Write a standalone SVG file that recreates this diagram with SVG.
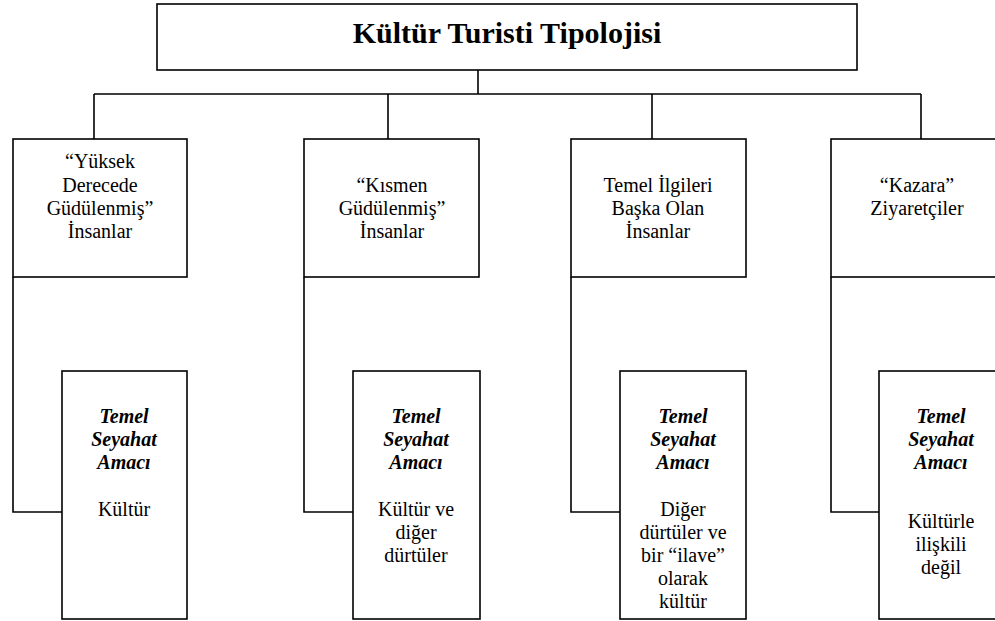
<svg xmlns="http://www.w3.org/2000/svg" width="995" height="621" viewBox="0 0 995 621">
<style>
.box{fill:#fff;stroke:#000;stroke-width:1.6}
.ln{fill:none;stroke:#000;stroke-width:1.6}
.tx{font-family:'Liberation Serif','Times New Roman',serif;font-size:20px;fill:#000;text-anchor:middle}
.title{font-size:30px;font-weight:bold}
.bi{font-weight:bold;font-style:italic}
</style>
<rect width="995" height="621" fill="#fff"/>
<g id="connectors">
<path class="ln" d="M478 70V94M94 94H921M94 94V139M388 94V139M652 94V139M921 94V139"/>
<path class="ln" d="M13 277V512H62M304 277V512H353M571 277V512H620M831 277V512H879"/>
</g>
<g class="tx">
<g id="root">
<rect class="box" x="157" y="4" width="700" height="66"/>
<text class="title" x="507" y="43">Kültür Turisti Tipolojisi</text>
</g>
<g id="t1">
<rect class="box" x="13" y="139" width="174" height="138"/>
<text x="100" y="168">“Yüksek</text>
<text x="100" y="192">Derecede</text>
<text x="100" y="215">Güdülenmiş”</text>
<text x="100" y="238">İnsanlar</text>
</g>
<g id="t2">
<rect class="box" x="304" y="139" width="175" height="138"/>
<text x="392" y="192">“Kısmen</text>
<text x="392" y="215">Güdülenmiş”</text>
<text x="392" y="238">İnsanlar</text>
</g>
<g id="t3">
<rect class="box" x="571" y="139" width="175" height="138"/>
<text x="658" y="192">Temel İlgileri</text>
<text x="658" y="215">Başka Olan</text>
<text x="658" y="238">İnsanlar</text>
</g>
<g id="t4">
<rect class="box" x="831" y="139" width="175" height="138"/>
<text x="917" y="192">“Kazara”</text>
<text x="917" y="215">Ziyaretçiler</text>
</g>
<g id="p1">
<rect class="box" x="62" y="371" width="125" height="248"/>
<text class="bi" x="124" y="423">Temel</text>
<text class="bi" x="124" y="446">Seyahat</text>
<text class="bi" x="124" y="469">Amacı</text>
<text x="124" y="516">Kültür</text>
</g>
<g id="p2">
<rect class="box" x="353" y="371" width="127" height="248"/>
<text class="bi" x="416" y="423">Temel</text>
<text class="bi" x="416" y="446">Seyahat</text>
<text class="bi" x="416" y="469">Amacı</text>
<text x="416" y="516">Kültür ve</text>
<text x="416" y="539">diğer</text>
<text x="416" y="562">dürtüler</text>
</g>
<g id="p3">
<rect class="box" x="620" y="371" width="126" height="248"/>
<text class="bi" x="683" y="423">Temel</text>
<text class="bi" x="683" y="446">Seyahat</text>
<text class="bi" x="683" y="469">Amacı</text>
<text x="683" y="516">Diğer</text>
<text x="683" y="539">dürtüler ve</text>
<text x="683" y="562">bir “ilave”</text>
<text x="683" y="585">olarak</text>
<text x="683" y="608">kültür</text>
</g>
<g id="p4">
<rect class="box" x="879" y="371" width="126" height="248"/>
<text class="bi" x="941" y="423">Temel</text>
<text class="bi" x="941" y="446">Seyahat</text>
<text class="bi" x="941" y="469">Amacı</text>
<text x="941" y="528">Kültürle</text>
<text x="941" y="551">ilişkili</text>
<text x="941" y="574">değil</text>
</g>
</g>
</svg>
